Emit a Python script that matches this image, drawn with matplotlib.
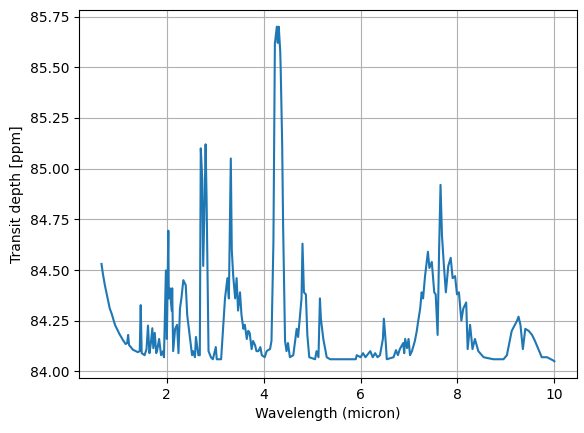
import matplotlib
matplotlib.use('Agg')
import matplotlib.pyplot as plt
import numpy as np

# wavelength grid (micron) and transit depth (ppm)
wavelength = [
    0.65, 0.68, 0.72, 0.76, 0.82, 0.86, 0.93, 0.98, 1.02, 1.07, 1.10, 1.15, 1.18, 1.20,
    1.22, 1.30, 1.40, 1.44, 1.46, 1.48,
    1.54, 1.58, 1.61, 1.64, 1.67, 1.70, 1.72, 1.75, 1.78, 1.80, 1.84, 1.88, 1.92,
    1.94, 1.98, 2.00, 2.03, 2.04, 2.06, 2.10, 2.11, 2.13, 2.17, 2.21, 2.24, 2.27,
    2.30, 2.34, 2.39, 2.42, 2.48, 2.52, 2.54, 2.58, 2.60, 2.65, 2.68, 2.70, 2.73,
    2.75, 2.78, 2.80, 2.82, 2.86, 2.91, 2.95, 3.01, 3.03, 3.12, 3.20, 3.25, 3.28,
    3.32, 3.34, 3.37, 3.41, 3.44, 3.47, 3.51, 3.54, 3.58, 3.61, 3.65, 3.68, 3.71,
    3.75, 3.78, 3.82, 3.85, 3.89, 3.93, 3.96, 4.02, 4.06, 4.09, 4.13, 4.16, 4.20,
    4.23, 4.27, 4.29, 4.31, 4.34, 4.35, 4.38, 4.40, 4.44, 4.47, 4.50, 4.54, 4.61,
    4.68, 4.71, 4.75, 4.78, 4.80, 4.83, 4.87, 4.90, 4.94, 5.06, 5.09, 5.13, 5.16,
    5.18, 5.23, 5.30, 5.37, 5.60, 5.90, 5.92, 6.00, 6.05, 6.10, 6.20, 6.25, 6.30,
    6.35, 6.40, 6.46, 6.48, 6.52, 6.54, 6.68, 6.73, 6.77, 6.81, 6.88, 6.90, 6.92,
    6.96, 6.99, 7.02, 7.06, 7.12, 7.16, 7.19, 7.23, 7.26, 7.29, 7.33, 7.39, 7.42,
    7.47, 7.52, 7.55, 7.59, 7.62, 7.65, 7.68, 7.72, 7.76, 7.81, 7.86, 7.90, 7.95,
    7.99, 8.03, 8.08, 8.12, 8.18, 8.21, 8.26, 8.31, 8.36, 8.43, 8.54, 8.74, 8.95,
    9.02, 9.12, 9.23, 9.26, 9.30, 9.35, 9.40, 9.47, 9.54, 9.60, 9.67, 9.74, 9.85,
    9.97, 10.0,
]
depth = [
    84.53, 84.48, 84.425, 84.38, 84.311, 84.285, 84.229, 84.205, 84.185, 84.164, 84.152, 84.135, 84.14, 84.18,
    84.13, 84.107, 84.095, 84.10, 84.327, 84.09,
    84.08, 84.11, 84.226, 84.09, 84.14, 84.213, 84.115, 84.19, 84.09, 84.105, 84.16, 84.08, 84.10,
    84.07, 84.498, 84.16, 84.694, 84.36, 84.41, 84.30, 84.41, 84.10, 84.21, 84.23, 84.09, 84.31,
    84.36, 84.45, 84.425, 84.278, 84.16, 84.08, 84.10, 84.07, 84.17, 84.08, 84.08, 85.10, 84.95,
    84.52, 84.85, 85.12, 84.85, 84.10, 84.07, 84.06, 84.12, 84.06, 84.06, 84.36, 84.46, 84.36,
    85.05, 84.60, 84.47, 84.36, 84.46, 84.30, 84.39, 84.28, 84.21, 84.23, 84.16, 84.20, 84.19,
    84.11, 84.15, 84.13, 84.10, 84.10, 84.12, 84.08, 84.07, 84.10, 84.105, 84.11, 84.15, 84.64,
    85.616, 85.70, 85.62, 85.70, 85.58, 85.49, 85.13, 84.72, 84.15, 84.10, 84.14, 84.07, 84.08,
    84.21, 84.17, 84.28, 84.36, 84.63, 84.39, 84.38, 84.18, 84.07, 84.06, 84.10, 84.07, 84.36,
    84.26, 84.16, 84.07, 84.06, 84.06, 84.06, 84.08, 84.07, 84.09, 84.07, 84.10, 84.07, 84.09,
    84.07, 84.08, 84.16, 84.26, 84.14, 84.06, 84.07, 84.105, 84.08, 84.11, 84.14, 84.09, 84.16,
    84.115, 84.16, 84.08, 84.10, 84.15, 84.20, 84.25, 84.31, 84.39, 84.36, 84.47, 84.59, 84.51,
    84.54, 84.39, 84.38, 84.18, 84.59, 84.92, 84.67, 84.52, 84.39, 84.52, 84.56, 84.46, 84.47,
    84.38, 84.39, 84.25, 84.31, 84.34, 84.11, 84.23, 84.11, 84.16, 84.10, 84.07, 84.06, 84.06,
    84.08, 84.20, 84.25, 84.27, 84.23, 84.11, 84.21, 84.20, 84.18, 84.15, 84.11, 84.07, 84.07,
    84.055, 84.05,
]

fig = plt.figure(figsize=(5.84, 4.33), dpi=100)
plt.plot(wavelength, depth)
plt.xlabel('Wavelength (micron)')
plt.ylabel('Transit depth [ppm]')
plt.grid(True)
plt.subplots_adjust(left=0.135, right=0.988, top=0.977, bottom=0.127)
plt.savefig('out.png', dpi=100)
plt.close()
